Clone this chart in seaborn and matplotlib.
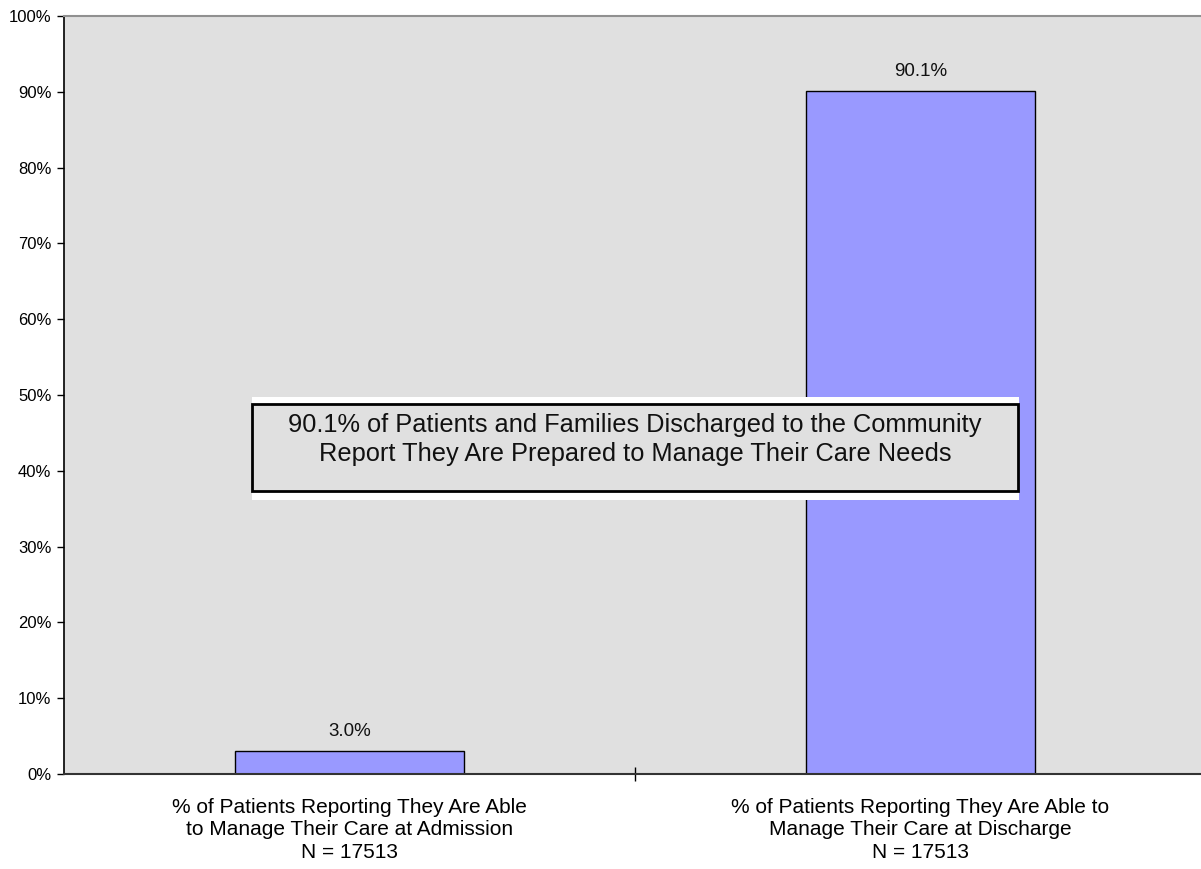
import matplotlib
matplotlib.use("Agg")
import matplotlib.pyplot as plt
from matplotlib.patches import Rectangle
from matplotlib.ticker import FixedLocator, PercentFormatter
import seaborn as sns
import pandas as pd

categories = [
    "% of Patients Reporting They Are Able\nto Manage Their Care at Admission\nN = 17513",
    "% of Patients Reporting They Are Able to\nManage Their Care at Discharge\nN = 17513",
]
values = [3.0, 90.1]
value_labels = ["3.0%", "90.1%"]
callout = ("90.1% of Patients and Families Discharged to the Community\n"
           "Report They Are Prepared to Manage Their Care Needs")

sns.set_theme(style="white")
plt.rcParams["font.family"] = ["Liberation Sans", "DejaVu Sans"]
plt.rcParams["text.color"] = "black"
plt.rcParams["xtick.color"] = "black"
plt.rcParams["ytick.color"] = "black"

df = pd.DataFrame({"category": categories, "value": values})

fig = plt.figure(figsize=(12.01, 8.69), dpi=100)
ax = fig.add_axes([64 / 1201, 1 - 774 / 869, 1142 / 1201, 758 / 869])
ax.set_facecolor("#E0E0E0")

sns.barplot(data=df, x="category", y="value", color="#9999FF", width=0.4,
            saturation=1, edgecolor="black", linewidth=1.0, ax=ax, zorder=2)

ax.set_xlim(-0.5, 1.5)
ax.set_ylim(0, 100)
ax.set_xlabel("")
ax.set_ylabel("")

# y axis: percent ticks every 10
ax.yaxis.set_major_locator(FixedLocator(range(0, 101, 10)))
ax.yaxis.set_major_formatter(PercentFormatter(decimals=0))
ax.tick_params(axis="y", which="major", direction="out", length=5, width=1,
               color="black", labelcolor="black", labelsize=12, pad=4,
               left=True)

# x axis: category labels without ticks, divider tick between groups
ax.set_xticks([0, 1])
ax.set_xticklabels(categories, fontsize=15, linespacing=1.25)
ax.tick_params(axis="x", which="major", length=0, pad=17, labelsize=15,
               labelcolor="black")
ax.xaxis.set_minor_locator(FixedLocator([0.5]))
ax.tick_params(axis="x", which="minor", direction="inout", length=10,
               width=1, color="black", bottom=True)

ax.spines["left"].set_color("black")
ax.spines["left"].set_linewidth(1.2)
ax.spines["bottom"].set_color("#333333")
ax.spines["bottom"].set_linewidth(1.5)
ax.spines["top"].set_color("#909090")
ax.spines["top"].set_linewidth(1.5)
ax.spines["right"].set_visible(False)

for i, (v, lab) in enumerate(zip(values, value_labels)):
    ax.annotate(lab, (i, v), xytext=(0, 11), textcoords="offset points",
                ha="center", va="baseline", fontsize=13.5, color="#111111")

# call-out box
ax.add_patch(Rectangle((-0.171, 36.1), 1.343, 13.7, facecolor="white",
                       edgecolor="none", zorder=3))
ax.add_patch(Rectangle((-0.171, 37.4), 1.341, 11.4, facecolor="#E0E0E0",
                       edgecolor="black", linewidth=2, zorder=4))
ax.text(0.5, 44.1, callout, ha="center", va="center", fontsize=18.3,
        linespacing=1.25, color="#111111", zorder=5)

fig.savefig("out.png", dpi=100)
